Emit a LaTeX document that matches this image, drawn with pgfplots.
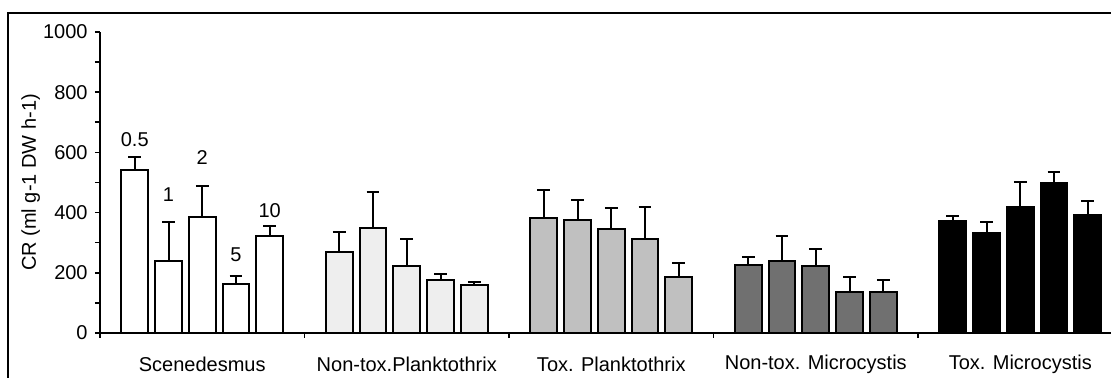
\documentclass[border=0pt]{standalone}
\usepackage{fontspec}
\setmainfont{Liberation Sans}
\usepackage{pgfplots}
\pgfplotsset{compat=1.18}
\definecolor{gA}{HTML}{FFFFFF}
\definecolor{gB}{HTML}{EEEEEE}
\definecolor{gC}{HTML}{C0C0C0}
\definecolor{gD}{HTML}{707070}
\definecolor{gE}{HTML}{000000}
\newcommand{\lbl}{\fontsize{15}{17}\selectfont}
\begin{document}
\begin{tikzpicture}[x=0.75pt,y=0.75pt]
\useasboundingbox (0,0) rectangle (1111,378);
\clip (0,0) rectangle (1111,378);
% frame (top and left visible)
\draw[line width=1.5pt] (8,-10) -- (8,365) -- (1130,365);
\begin{axis}[
  at={(75pt,33.75pt)}, anchor=south west,
  scale only axis,
  width=766.9pt, height=225.75pt,
  xmin=-0.5, xmax=4.5, ymin=0, ymax=1000,
  axis lines*=left,
  axis line style={line width=1.5pt},
  clip=false,
  xtick={0,1,2,3,4},
  xticklabels={Scenedesmus, Non-tox.Planktothrix, Tox. Planktothrix, Non-tox. Microcystis, Tox. Microcystis},
  minor xtick={-0.5,0.5,1.5,2.5,3.5,4.5},
  major x tick style={draw=none},
  ytick={0,200,400,600,800,1000},
  minor ytick={100,300,500,700,900},
  tick align=outside,
  major tick length=3.75pt, minor tick length=3.75pt,
  every tick/.style={line width=1.2pt, black},
  /pgf/number format/assume math mode=true,
  /pgf/number format/1000 sep={},
  ticklabel style={font=\lbl},
  xticklabel style={anchor=center, yshift=-20pt},
  yticklabel style={xshift=-2pt},
  ybar, bar width=20pt, bar shift=0pt,
  every axis plot/.append style={line width=1.5pt, draw=black},
  error bars/y dir=plus, error bars/y explicit,
  error bars/error bar style={line width=1.5pt, black},
  error bars/error mark options={rotate=90, line width=1.5pt, black, mark size=4.75pt},
]
\addplot[fill=gA] coordinates {(-0.33,542)+-(0,42) (-0.165,238)+-(0,132) (0,384)+-(0,105) (0.165,164)+-(0,27) (0.33,323)+-(0,33)};
\addplot[fill=gB] coordinates {(0.67,270)+-(0,67) (0.835,349)+-(0,121) (1,224)+-(0,87) (1.165,177)+-(0,20) (1.33,158)+-(0,13)};
\addplot[fill=gC] coordinates {(1.67,383)+-(0,93) (1.835,377)+-(0,66) (2,344)+-(0,72) (2.165,311)+-(0,106) (2.33,185)+-(0,46)};
\addplot[fill=gD] coordinates {(2.67,226)+-(0,25) (2.835,238)+-(0,85) (3,224)+-(0,54) (3.165,137)+-(0,48) (3.33,137)+-(0,40)};
\addplot[fill=gE] coordinates {(3.67,373)+-(0,17) (3.835,332)+-(0,38) (4,419)+-(0,84) (4.165,498)+-(0,38) (4.33,392)+-(0,46)};
\node[font=\lbl] at (axis cs:-0.33,644) {0.5};
\node[font=\lbl] at (axis cs:-0.165,459) {1};
\node[font=\lbl] at (axis cs:0,584) {2};
\node[font=\lbl] at (axis cs:0.165,260) {5};
\node[font=\lbl] at (axis cs:0.33,406) {10};
\node[font=\lbl, rotate=90] at ([xshift=-52pt]rel axis cs:0,0.5) {CR (ml g-1 DW h-1)};
\end{axis}
\end{tikzpicture}
\end{document}
